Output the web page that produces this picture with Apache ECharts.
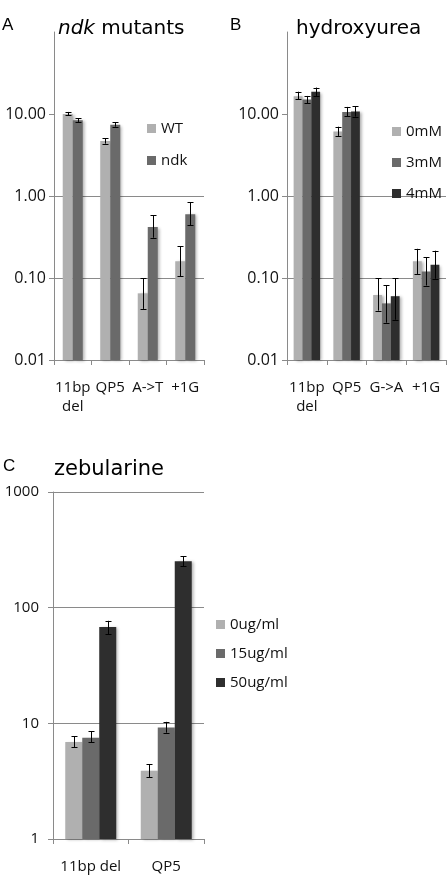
<!DOCTYPE html>
<html>
<head>
<meta charset="utf-8">
<script src="https://cdn.jsdelivr.net/npm/echarts@6/dist/echarts.min.js"></script>
<style>html,body{margin:0;padding:0;background:#fff}#c{width:448px;height:876px}</style>
</head>
<body>
<div id="c"></div>
<script>
// ---- data ----
const catsA = ['11bp del', 'QP5', 'A->T', '+1G'];
const catsB = ['11bp del', 'QP5', 'G->A', '+1G'];
const catsC = ['11bp del', 'QP5'];

const seriesNamesA = ['WT', 'ndk'];
const seriesNamesB = ['0mM', '3mM', '4mM'];
const seriesNamesC = ['0ug/ml', '15ug/ml', '50ug/ml'];

// panel A (ndk mutants)
const wtMean = [10.0, 4.7, 0.065, 0.16];
const wtLow  = [9.6, 4.35, 0.042, 0.105];
const wtHigh = [10.6, 5.05, 0.10, 0.245];
const ndkMean = [8.4, 7.4, 0.42, 0.60];
const ndkLow  = [8.0, 7.0, 0.31, 0.44];
const ndkHigh = [8.9, 7.9, 0.58, 0.84];

// panel B (hydroxyurea)
const hu0Mean = [16.5, 6.1, 0.062, 0.16];
const hu0Low  = [15.1, 5.4, 0.040, 0.112];
const hu0High = [18.7, 7.0, 0.099, 0.227];
const hu3Mean = [15.0, 10.6, 0.049, 0.12];
const hu3Low  = [13.5, 9.4, 0.0285, 0.081];
const hu3High = [16.6, 12.2, 0.082, 0.18];
const hu4Mean = [18.7, 10.7, 0.060, 0.145];
const hu4Low  = [16.6, 9.3, 0.031, 0.098];
const hu4High = [21.0, 12.4, 0.099, 0.215];

// panel C (zebularine)
const z0Mean = [6.9, 3.9];
const z0Low  = [6.2, 3.42];
const z0High = [7.7, 4.45];
const z15Mean = [7.5, 9.2];
const z15Low  = [6.85, 8.3];
const z15High = [8.5, 10.3];
const z50Mean = [68, 252];
const z50Low  = [59, 227];
const z50High = [77, 277];

const ticksAB = [0.01, 0.1, 1, 10];
const ticksC = [1, 10, 100, 1000];

// ---- styling ----
const C1 = '#b0b0b0', C2 = '#6a6a6a', C3 = '#2e2e2e';
const AX = '#8a8a8a';
const LBL = "'Open Sans', sans-serif";

function makeSeries(name, color, gi, means, lows, highs, slot, nSlots, frac, yMin) {
  return {
    type: 'custom', name: name, xAxisIndex: gi, yAxisIndex: gi,
    itemStyle: { color: color },
    encode: { x: 0, y: [1, 2, 3] },
    data: means.map((v, i) => [i, v, lows[i], highs[i]]),
    renderItem: function (params, api) {
      const i = api.value(0);
      const top = api.coord([i, api.value(1)]);
      const base = api.coord([i, yMin]);
      const p0 = api.coord([0, yMin]);
      const p1 = api.coord([1, yMin]);
      const band = p1[0] - p0[0];
      const w = band * frac;
      const cx = top[0] + (slot - (nSlots - 1) / 2) * w;
      const lo = api.coord([i, api.value(2)]);
      const hi = api.coord([i, api.value(3)]);
      const ex = Math.round(cx) + 0.5;
      const ls = { stroke: '#000', lineWidth: 1 };
      return {
        type: 'group',
        children: [
          { type: 'rect', shape: { x: cx - w / 2, y: top[1], width: w, height: base[1] - top[1] },
            style: { fill: api.visual('color'), shadowBlur: 3, shadowOffsetX: 2, shadowOffsetY: 1, shadowColor: 'rgba(0,0,0,0.3)' } },
          { type: 'line', z2: 10, shape: { x1: ex, y1: hi[1], x2: ex, y2: lo[1] }, style: ls },
          { type: 'line', z2: 10, shape: { x1: ex - 3, y1: Math.round(hi[1]) + 0.5, x2: ex + 3, y2: Math.round(hi[1]) + 0.5 }, style: ls },
          { type: 'line', z2: 10, shape: { x1: ex - 3, y1: Math.round(lo[1]) + 0.5, x2: ex + 3, y2: Math.round(lo[1]) + 0.5 }, style: ls }
        ]
      };
    }
  };
}

function xAxis(gi, cats, wrap, margin) {
  return {
    type: 'category', gridIndex: gi, data: cats,
    axisLine: { lineStyle: { color: AX, width: 1 } },
    axisTick: { show: true, alignWithLabel: false, length: 5, lineStyle: { color: AX } },
    axisLabel: { interval: 0, margin: margin, color: '#111', fontFamily: LBL, fontSize: 15, lineHeight: 19,
      formatter: wrap ? (s => s.replace(' ', '\n')) : (s => s) },
    splitLine: { show: false }
  };
}

function yAxis(gi, min, max, ticks, fmt, showMax, margin, fs) {
  return {
    type: 'log', logBase: 10, gridIndex: gi, min: min, max: max,
    axisLine: { show: true, lineStyle: { color: AX, width: 1 } },
    axisTick: { show: true, length: 5, lineStyle: { color: AX }, customValues: ticks },
    axisLabel: { color: '#111', fontFamily: LBL, fontSize: fs, margin: margin, customValues: ticks, formatter: fmt },
    splitLine: { show: true, showMinLine: false, showMaxLine: showMax, lineStyle: { color: AX, width: 1 } },
    minorTick: { show: false }, minorSplitLine: { show: false }
  };
}

const fmtAB = v => Number(v).toFixed(2);
const fmtC = v => String(Math.round(v));

const option = {
  backgroundColor: '#fff',
  animation: false,
  grid: [
    { left: 54, top: 32, width: 150, height: 328 },
    { left: 287, top: 32, width: 159, height: 328 },
    { left: 53, top: 492, width: 151, height: 349 }
  ],
  xAxis: [xAxis(0, catsA, true, 18), xAxis(1, catsB, true, 18), xAxis(2, catsC, false, 18)],
  yAxis: [yAxis(0, 0.01, 100, ticksAB, fmtAB, false, 8, 16), yAxis(1, 0.01, 100, ticksAB, fmtAB, false, 8, 16),
          yAxis(2, 1, 1000, ticksC, fmtC, true, 14, 15)],
  legend: [
    { data: seriesNamesA, orient: 'vertical', left: 147, top: 121, padding: 0, itemWidth: 9, itemHeight: 9, itemGap: 17, itemTextGap: 4,
      icon: 'rect', textStyle: { fontFamily: LBL, fontSize: 15, color: '#111' } },
    { data: seriesNamesB, orient: 'vertical', left: 392, top: 124, padding: 0, itemWidth: 9, itemHeight: 9, itemGap: 16, itemTextGap: 4,
      icon: 'rect', textStyle: { fontFamily: LBL, fontSize: 15, color: '#111' } },
    { data: seriesNamesC, orient: 'vertical', left: 216, top: 617, padding: 0, itemWidth: 9, itemHeight: 9, itemGap: 14, itemTextGap: 5,
      icon: 'rect', textStyle: { fontFamily: LBL, fontSize: 15, color: '#111' } }
  ],
  graphic: [
    { type: 'text', x: 2, y: 17, style: { text: 'A', font: "17px 'Liberation Sans'", fill: '#000', verticalAlign: 'alphabetic' } },
    { type: 'text', x: 58, y: 18.5, style: { text: '{i|ndk} mutants', font: "20px 'DejaVu Sans'", fill: '#000', verticalAlign: 'alphabetic',
        rich: { i: { fontStyle: 'italic', font: "italic 20px 'DejaVu Sans'", fill: '#000' } } } },
    { type: 'text', x: 230, y: 17, style: { text: 'B', font: "17px 'Liberation Sans'", fill: '#000', verticalAlign: 'alphabetic' } },
    { type: 'text', x: 296, y: 18.5, style: { text: 'hydroxyurea', font: "20px 'DejaVu Sans'", fill: '#000', verticalAlign: 'alphabetic' } },
    { type: 'text', x: 3, y: 458, style: { text: 'C', font: "17px 'Liberation Sans'", fill: '#000', verticalAlign: 'alphabetic' } },
    { type: 'text', x: 54, y: 459, style: { text: 'zebularine', font: "21px 'DejaVu Sans'", fill: '#000', verticalAlign: 'alphabetic' } }
  ],
  series: [
    makeSeries(seriesNamesA[0], C1, 0, wtMean, wtLow, wtHigh, 0, 2, 0.267, 0.01),
    makeSeries(seriesNamesA[1], C2, 0, ndkMean, ndkLow, ndkHigh, 1, 2, 0.267, 0.01),
    makeSeries(seriesNamesB[0], C1, 1, hu0Mean, hu0Low, hu0High, 0, 3, 0.222, 0.01),
    makeSeries(seriesNamesB[1], C2, 1, hu3Mean, hu3Low, hu3High, 1, 3, 0.222, 0.01),
    makeSeries(seriesNamesB[2], C3, 1, hu4Mean, hu4Low, hu4High, 2, 3, 0.222, 0.01),
    makeSeries(seriesNamesC[0], C1, 2, z0Mean, z0Low, z0High, 0, 3, 0.225, 1),
    makeSeries(seriesNamesC[1], C2, 2, z15Mean, z15Low, z15High, 1, 3, 0.225, 1),
    makeSeries(seriesNamesC[2], C3, 2, z50Mean, z50Low, z50High, 2, 3, 0.225, 1)
  ]
};

const chart = echarts.init(document.getElementById('c'), null, { renderer: 'canvas' });
chart.setOption(option);
</script>
</body>
</html>
